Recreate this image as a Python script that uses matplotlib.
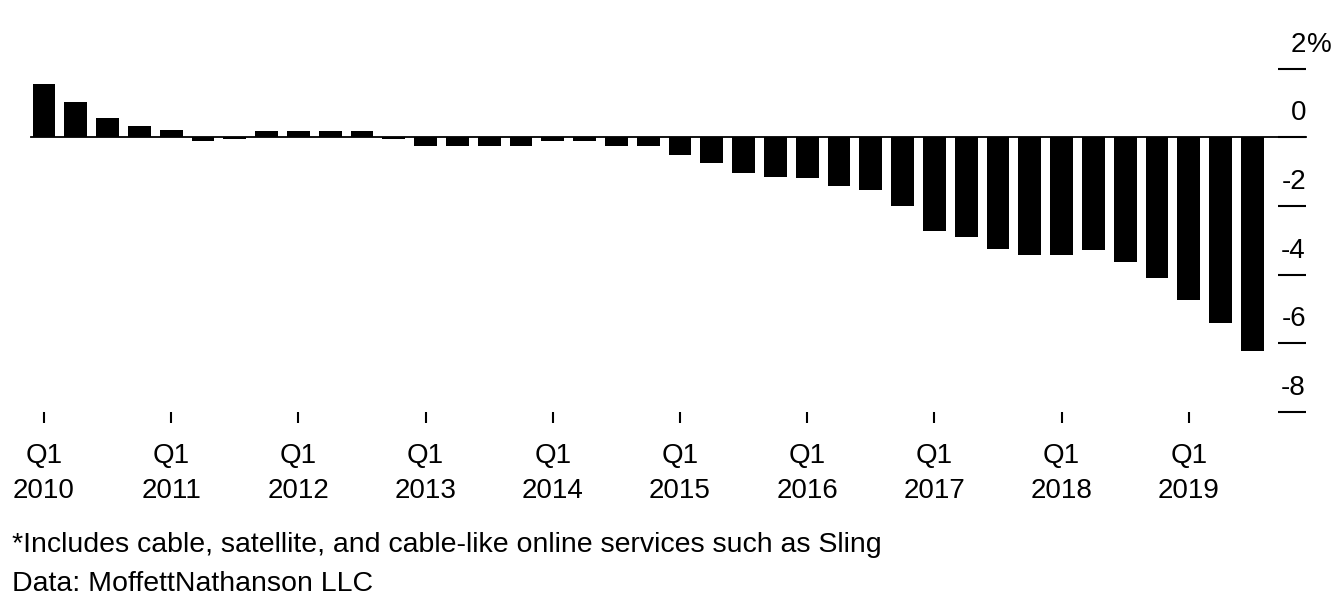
import matplotlib
matplotlib.use('Agg')
import matplotlib.pyplot as plt
import matplotlib.transforms as mtransforms
import numpy as np

plt.rcParams['font.family'] = ['Liberation Sans', 'DejaVu Sans']

# Quarterly change, Q1 2010 .. Q3 2019 (%)
quarters = [f'Q{q} {y}' for y in range(2010, 2020) for q in range(1, 5)][:39]
change = [1.55, 1.02, 0.56, 0.34, 0.22, -0.11, -0.06, 0.17, 0.17, 0.17,
          0.17, -0.05, -0.24, -0.24, -0.24, -0.24, -0.12, -0.12, -0.24, -0.24,
          -0.51, -0.75, -1.03, -1.15, -1.20, -1.42, -1.54, -1.99, -2.73, -2.91,
          -3.26, -3.42, -3.42, -3.30, -3.65, -4.10, -4.73, -5.42, -6.22]
yticks = [2, 0, -2, -4, -6, -8]
year_labels = ['Q1\n2010', 'Q1\n2011', 'Q1\n2012', 'Q1\n2013', 'Q1\n2014',
               'Q1\n2015', 'Q1\n2016', 'Q1\n2017', 'Q1\n2018', 'Q1\n2019']
note = '*Includes cable, satellite, and cable-like online services such as Sling'
source = 'Data: MoffettNathanson LLC'

FS = 20
W, H = 1342, 610
fig = plt.figure(figsize=(W / 100, H / 100), dpi=100)
ax = fig.add_axes([0, 0, 1, 1])
ax.axis('off')

# pixel layout -> data limits
x0, dx = 44.0, 31.8      # px of first bar centre, px per bar
y0, dy = 137.3, 34.3     # px of zero line, px per 1%
ax.set_xlim(-x0 / dx, (W - x0) / dx)
ax.set_ylim((y0 - H) / dy, y0 / dy)

def fy(px):
    return 1 - px / H

x = np.arange(len(change))
ax.bar(x, change, width=0.72, color='black', zorder=2)

# zero line and y ticks on the right
x_right = (1306 - x0) / dx
x_tick0 = (1278 - x0) / dx
ax.plot([-0.4, x_right], [0, 0], color='black', lw=1.3, zorder=3)
ax.hlines(yticks, x_tick0, x_right, color='black', lw=1.5)
lab_off = mtransforms.offset_copy(ax.transData, fig=fig, x=0, y=17, units='dots')
for v in yticks:
    ax.text(x_right, v, f'{v}', ha='right', va='baseline', fontsize=FS,
            transform=lab_off)
    if v == yticks[0]:
        ax.text(x_right + 0.03, v, '%', ha='left', va='baseline', fontsize=FS,
                transform=lab_off)

# x ticks at Q1 of each year
trans = mtransforms.blended_transform_factory(ax.transData, fig.transFigure)
q1 = x[::4]
ax.vlines(q1, fy(423), fy(412), color='black', lw=1.5, transform=trans)
for xi, lab in zip(q1, year_labels):
    ax.text(xi, fy(473), lab, ha='center', va='center', fontsize=FS,
            linespacing=1.45, transform=trans)

fig.text(12 / W, fy(545), note, ha='left', va='center', fontsize=20.5)
fig.text(12 / W, fy(584), source, ha='left', va='center', fontsize=20.5)

fig.savefig('out.png', dpi=100)
